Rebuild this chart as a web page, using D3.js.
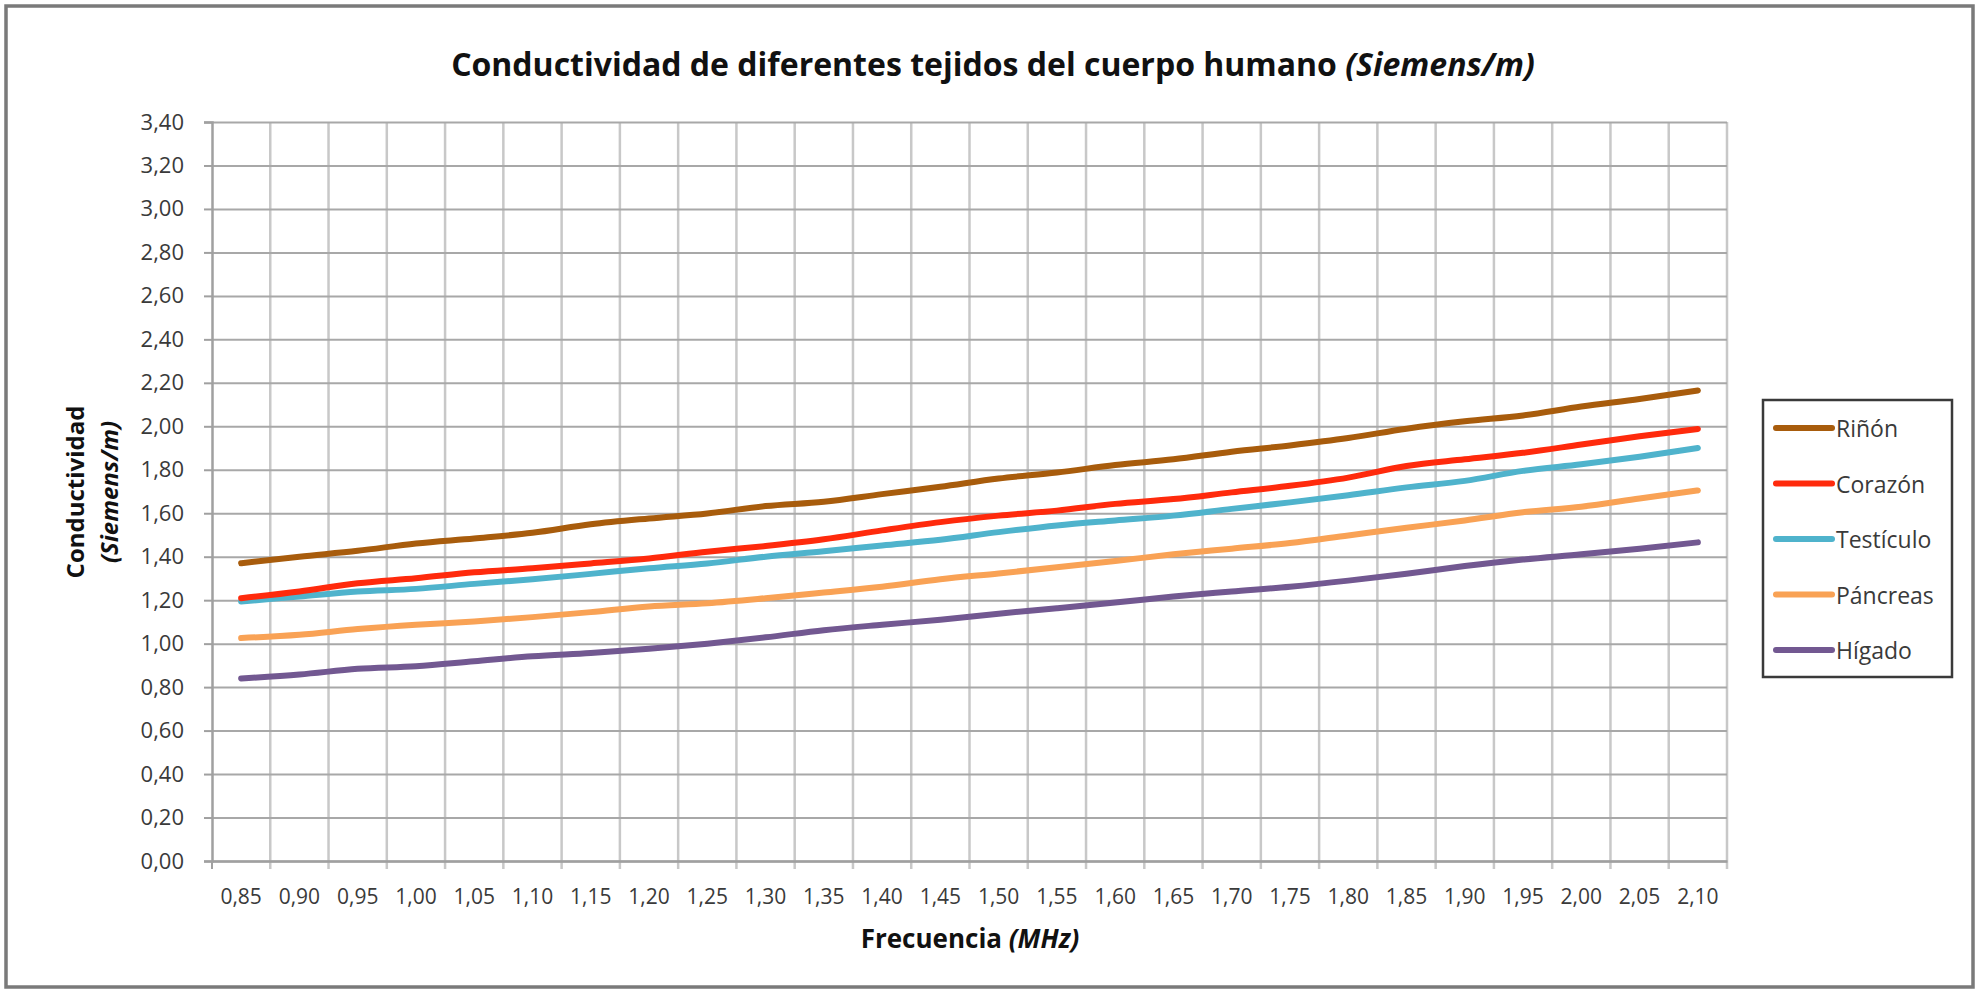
<!DOCTYPE html>
<html>
<head>
<meta charset="utf-8">
<script src="https://cdn.jsdelivr.net/npm/d3@7"></script>
<style>
  body { margin: 0; background: #fff; }
  .chart text { font-family: 'Open Sans', sans-serif; }
</style>
</head>
<body>
<div class="chart"></div>
<script>
'use strict';

const categories = ['0,85', '0,90', '0,95', '1,00', '1,05', '1,10', '1,15', '1,20', '1,25',
  '1,30', '1,35', '1,40', '1,45', '1,50', '1,55', '1,60', '1,65', '1,70', '1,75', '1,80',
  '1,85', '1,90', '1,95', '2,00', '2,05', '2,10'];

const yTicks = [0, 0.2, 0.4, 0.6, 0.8, 1.0, 1.2, 1.4, 1.6, 1.8, 2.0, 2.2, 2.4, 2.6, 2.8, 3.0, 3.2, 3.4];

const rinon = [1.370, 1.400, 1.427, 1.461, 1.484, 1.510, 1.549, 1.576, 1.599, 1.633, 1.653, 1.688, 1.722,
  1.760, 1.787, 1.822, 1.848, 1.883, 1.912, 1.946, 1.989, 2.023, 2.050, 2.091, 2.126, 2.165];
const corazon = [1.209, 1.240, 1.278, 1.301, 1.328, 1.347, 1.369, 1.392, 1.423, 1.449, 1.480, 1.521, 1.559,
  1.589, 1.612, 1.643, 1.665, 1.696, 1.726, 1.764, 1.817, 1.848, 1.878, 1.916, 1.954, 1.988];
const testiculo = [1.194, 1.217, 1.240, 1.252, 1.275, 1.296, 1.321, 1.347, 1.369, 1.400, 1.425, 1.452, 1.478,
  1.513, 1.544, 1.567, 1.589, 1.620, 1.650, 1.683, 1.719, 1.749, 1.795, 1.825, 1.860, 1.900];
const pancreas = [1.026, 1.041, 1.067, 1.087, 1.102, 1.122, 1.145, 1.171, 1.186, 1.209, 1.235, 1.262, 1.296,
  1.323, 1.351, 1.380, 1.411, 1.437, 1.463, 1.498, 1.533, 1.567, 1.605, 1.630, 1.668, 1.705];
const higado = [0.840, 0.858, 0.884, 0.896, 0.919, 0.942, 0.957, 0.976, 1.000, 1.029, 1.062, 1.087, 1.110,
  1.138, 1.163, 1.189, 1.217, 1.240, 1.262, 1.290, 1.322, 1.357, 1.387, 1.411, 1.437, 1.466];

const seriesNames = ['Riñón', 'Corazón', 'Testículo', 'Páncreas', 'Hígado'];
const seriesColors = ['#a85c0c', '#ff2a0c', '#4fb3cc', '#f9a255', '#725891'];

(function() {

    let svgContainer = "";
    const plot = { left: 212, right: 1727, top: 122, bottom: 861 };

    window.onload = function() {
        svgContainer = d3.select('.chart')
                        .append('svg').attr('width', 1978).attr('height', 990);

        svgContainer.append('rect')
          .attr('x', 6).attr('y', 6)
          .attr('width', 1967).attr('height', 981)
          .attr('fill', '#fff')
          .attr('stroke', '#7a7a7a')
          .attr('stroke-width', 3.5);

        let functions = drawAxes();
        plotGraph(functions);
        makeLegend();
        makeLabels();
    }

    function fmt(d) {
        return d.toFixed(2).replace('.', ',');
    }

    function drawAxes() {
        let xScale = d3.scaleBand()
          .domain(categories)
          .range([plot.left, plot.right])
          .padding(0);

        let yScale = d3.scaleLinear()
          .domain([0, 3.4])
          .range([plot.bottom, plot.top]);

        // vertical gridlines at category boundaries
        let bounds = categories.map((c) => xScale(c)).concat([plot.right]);
        svgContainer.append('g')
          .selectAll('line')
          .data(bounds.slice(1))
          .enter()
          .append('line')
            .attr('x1', (d) => d).attr('x2', (d) => d)
            .attr('y1', plot.top).attr('y2', plot.bottom + 8)
            .attr('stroke', '#c8c8c8')
            .attr('stroke-width', 2.5);

        // horizontal gridlines
        let yGrid = d3.axisLeft(yScale).tickValues(yTicks).tickSize(-(plot.right - plot.left)).tickFormat('');
        svgContainer.append('g')
          .attr('transform', 'translate(' + plot.left + ', 0)')
          .call(yGrid)
          .call((g) => g.select('.domain').remove())
          .call((g) => g.selectAll('.tick line').attr('stroke', '#a8a8a8').attr('stroke-width', 2));

        // y axis
        let yAxis = d3.axisLeft(yScale).tickValues(yTicks).tickSize(8).tickPadding(20).tickFormat(fmt);
        svgContainer.append('g')
          .attr('transform', 'translate(' + plot.left + ', 0)')
          .call(yAxis)
          .call((g) => g.select('.domain').attr('stroke', '#a0a0a0').attr('stroke-width', 2.5))
          .call((g) => g.selectAll('.tick line').attr('stroke', '#a0a0a0').attr('stroke-width', 2))
          .call((g) => g.selectAll('.tick text')
            .style('font-size', '22px').attr('fill', '#3a3a3a')
            .style('font-family', "'Open Sans', sans-serif"));

        // x axis
        let xAxis = d3.axisBottom(xScale).tickSize(0).tickPadding(28);
        svgContainer.append('g')
          .attr('transform', 'translate(0, ' + plot.bottom + ')')
          .call(xAxis)
          .call((g) => g.select('.domain').attr('stroke', '#a0a0a0').attr('stroke-width', 2.5))
          .call((g) => g.selectAll('.tick text')
            .style('font-size', '21px').attr('fill', '#3a3a3a')
            .style('font-family', "'Open Sans', sans-serif"));

        svgContainer.append('line')
          .attr('x1', plot.left).attr('x2', plot.left)
          .attr('y1', plot.bottom).attr('y2', plot.bottom + 8)
          .attr('stroke', '#a0a0a0').attr('stroke-width', 2);

        return {
          x: (d) => xScale(d) + xScale.bandwidth() / 2,
          y: (d) => yScale(d),
          xScale: xScale,
          yScale: yScale
        };
    }

    function plotGraph(map) {
        let allSeries = [rinon, corazon, testiculo, pancreas, higado];

        let line = d3.line()
          .x((d, i) => map.x(categories[i]))
          .y((d) => map.y(d))
          .curve(d3.curveMonotoneX);

        // drawn bottom-up so the upper series sit on top
        for (let s = allSeries.length - 1; s >= 0; s--) {
            svgContainer.append('path')
              .datum(allSeries[s])
              .attr('fill', 'none')
              .attr('stroke', seriesColors[s])
              .attr('stroke-width', 6)
              .attr('stroke-linecap', 'round')
              .attr('stroke-linejoin', 'round')
              .attr('d', line);
        }
    }

    function makeLegend() {
        let legend = svgContainer.append('g');

        legend.append('rect')
          .attr('x', 1763).attr('y', 400)
          .attr('width', 189).attr('height', 277)
          .attr('fill', '#fff')
          .attr('stroke', '#3a3a3a')
          .attr('stroke-width', 2.5);

        let rows = legend.selectAll('.row')
          .data(seriesNames)
          .enter()
          .append('g')
            .attr('transform', (d, i) => 'translate(0, ' + (428 + i * 55.5) + ')');

        rows.append('line')
          .attr('x1', 1776).attr('x2', 1832)
          .attr('y1', 0).attr('y2', 0)
          .attr('stroke', (d, i) => seriesColors[i])
          .attr('stroke-width', 6)
          .attr('stroke-linecap', 'round');

        rows.append('text')
          .attr('x', 1836)
          .attr('y', 9)
          .style('font-size', '23px')
          .attr('fill', '#3a3a3a')
          .text((d) => d);
    }

    function makeLabels() {
        let title = svgContainer.append('text')
          .attr('x', 993)
          .attr('y', 76)
          .attr('text-anchor', 'middle')
          .style('font-size', '32px')
          .style('font-weight', 'bold')
          .attr('fill', '#111');
        title.append('tspan').text('Conductividad de diferentes tejidos del cuerpo humano ');
        title.append('tspan').style('font-style', 'italic').text('(Siemens/m)');

        let xTitle = svgContainer.append('text')
          .attr('x', 970)
          .attr('y', 948)
          .attr('text-anchor', 'middle')
          .style('font-size', '26px')
          .style('font-weight', 'bold')
          .attr('fill', '#111');
        xTitle.append('tspan').text('Frecuencia ');
        xTitle.append('tspan').style('font-style', 'italic').text('(MHz)');

        svgContainer.append('text')
          .attr('transform', 'translate(84, 492)rotate(-90)')
          .attr('text-anchor', 'middle')
          .style('font-size', '24px')
          .style('font-weight', 'bold')
          .attr('fill', '#111')
          .text('Conductividad');

        svgContainer.append('text')
          .attr('transform', 'translate(118, 492)rotate(-90)')
          .attr('text-anchor', 'middle')
          .style('font-size', '24px')
          .style('font-weight', 'bold')
          .style('font-style', 'italic')
          .attr('fill', '#111')
          .text('(Siemens/m)');
    }

})();
</script>
</body>
</html>
